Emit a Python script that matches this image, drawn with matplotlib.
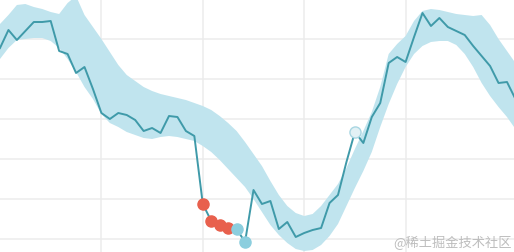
import numpy as np
import matplotlib.pyplot as plt

plt.rcParams['font.family'] = ['Noto Sans CJK SC', 'DejaVu Sans']

# observed series (one value per time step)
actual = [47.75, 52.25, 49.75, 52, 54.25, 54.25, 54.5, 47, 46.25, 41.5,
          43, 37.5, 31.5, 30, 31.5, 31, 29.75, 27, 27.75, 26.5,
          30.75, 30.5, 27, 25.75, 8.75, 4.5, 3.5, 2.75, 2.5, -0.75,
          12.25, 8.75, 9.5, 2.5, 4.25, 0.5, 1.5, 2.25, 2.75, 9,
          11, 19.25, 26.75, 24, 30.5, 34, 44, 45.5, 44.25, 50.5,
          56.5, 53.25, 55.25, 53, 52, 51, 48.25, 45.75, 43.25, 39,
          39.25, 35]

# expected range (upper / lower bound)
upper = [53.75, 56, 58.5, 58.75, 58, 57.5, 56.75, 56.25, 59, 60.75,
         56, 53, 50, 46.75, 43.5, 41, 39.5, 38, 37, 36.25,
         35.75, 35.25, 34.75, 34, 33.25, 32.25, 30.75, 29, 27, 24.25,
         21.25, 18.25, 14.5, 11, 8.25, 6.5, 5.75, 6.25, 8.25, 11,
         13.75, 17.75, 22.5, 27, 31.75, 38, 46.25, 48.75, 50.75, 54.5,
         57, 57.5, 57.25, 56.75, 56.25, 56, 55.75, 56, 53.5, 50,
         47, 44]
lower = [45, 47.75, 49.75, 50, 50.25, 50.25, 49.5, 47.75, 45, 41.75,
         38, 35, 31.25, 29, 28, 26.75, 26, 25.25, 25, 25.5,
         25.75, 25.5, 25, 24.5, 23.25, 21.75, 19.75, 17.5, 15.25, 13,
         10, 6.75, 3.5, 1, -1, -2.5, -3, -2.75, -1.5, 0.75,
         3.75, 8.25, 12.75, 17, 21.75, 28, 33.75, 38.75, 43, 46.25,
         48.25, 49.25, 49.5, 49.5, 48.5, 46.25, 43, 39, 35.75, 33,
         30.5, 27.5]

# flagged points
red_idx = [24, 25, 26, 27]
blue_idx = [28, 29]
pale_idx = [42]

t = np.arange(len(actual))
actual = np.array(actual)

fig = plt.figure(figsize=(5.14, 2.53), dpi=100)
ax = fig.add_axes([0, 0, 1, 1])

ax.fill_between(t, lower, upper, color='#c0e4ee', lw=0, zorder=1)
ax.plot(t, actual, color='#3f9aa9', lw=1.4, zorder=3)
ax.plot(t[red_idx], actual[red_idx], 'o', ms=8, color='#e8604d',
        mec='#e8604d', zorder=4)
ax.plot(t[blue_idx], actual[blue_idx], 'o', ms=8, color='#8ccede',
        mec='#8ccede', zorder=4)
ax.plot(t[pale_idx], actual[pale_idx], 'o', ms=8, color='#e2f1f5',
        mec='#a9d6e2', mew=1, zorder=4)

ax.set_xlim(0, 60.83)
ax.set_ylim(-3.25, 60)
ax.set_xticks([12, 24, 36, 48])
ax.set_yticks([0, 10, 20, 30, 40, 50, 60])
ax.grid(True, color='#ececec', lw=1.1, zorder=0)
ax.set_axisbelow(True)
ax.tick_params(length=0, labelbottom=False, labelleft=False)
for s in ax.spines.values():
    s.set_visible(False)

ax.text(0.995, 0.012, '@稀土掘金技术社区', transform=ax.transAxes,
        ha='right', va='bottom', fontsize=9.5, color='#bdbdbd')

fig.savefig('out.png', dpi=100)
